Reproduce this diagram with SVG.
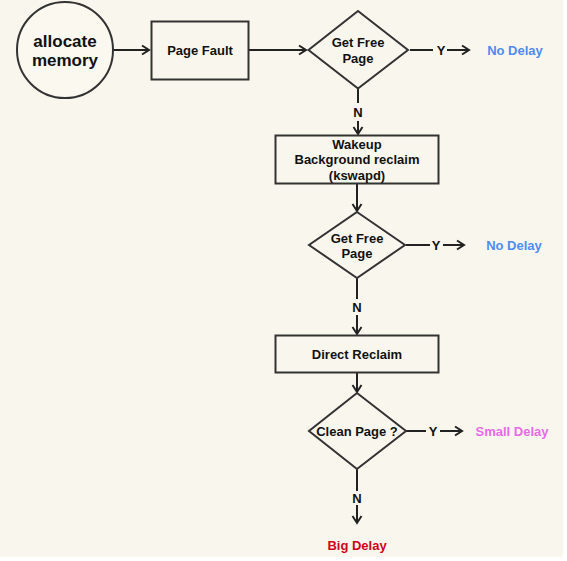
<svg xmlns="http://www.w3.org/2000/svg" width="567" height="561" viewBox="0 0 567 561">
  <style>
    .shape { fill: none; stroke: #333; stroke-width: 2; }
    .circ { fill: #faf8ef; stroke: #333; stroke-width: 2; }
    .edge { fill: none; stroke: #222; stroke-width: 2; }
    .lbl { font-family: "Liberation Sans", Arial, sans-serif; font-weight: bold; font-size: 13px; fill: #111; text-anchor: middle; }
    .big { font-size: 17px; }
    .blue { fill: #4f8cf0; }
    .pink { fill: #e86ae8; }
    .red { fill: #d0021b; }
  </style>
  <defs>
    <marker id="arr" markerUnits="userSpaceOnUse" markerWidth="12" markerHeight="12" viewBox="0 0 12 12" refX="10" refY="6" orient="auto">
      <path d="M3,1.5 L10,6 L3,10.5" fill="none" stroke="#222" stroke-width="2"/>
    </marker>
  </defs>
  <rect x="0" y="0" width="567" height="561" fill="#ffffff"/>
  <rect x="0" y="0" width="563" height="557" fill="#f9f7ed"/>

  <g id="connectors">
    <line class="edge" x1="113" y1="50" x2="149" y2="50" marker-end="url(#arr)"/>
    <line class="edge" x1="249" y1="50" x2="306" y2="50" marker-end="url(#arr)"/>
    <line class="edge" x1="410" y1="50" x2="433" y2="50"/>
    <text class="lbl" x="441" y="55">Y</text>
    <line class="edge" x1="447" y1="50" x2="469" y2="50" marker-end="url(#arr)"/>
    <line class="edge" x1="358" y1="88" x2="358" y2="103"/>
    <text class="lbl" x="358" y="117">N</text>
    <line class="edge" x1="358" y1="121" x2="358" y2="134" marker-end="url(#arr)"/>
    <line class="edge" x1="357" y1="184" x2="357" y2="211" marker-end="url(#arr)"/>
    <line class="edge" x1="406" y1="245" x2="430" y2="245"/>
    <text class="lbl" x="436" y="250">Y</text>
    <line class="edge" x1="443" y1="245" x2="464" y2="245" marker-end="url(#arr)"/>
    <line class="edge" x1="357" y1="278" x2="357" y2="299"/>
    <text class="lbl" x="357" y="312">N</text>
    <line class="edge" x1="357" y1="315" x2="357" y2="334" marker-end="url(#arr)"/>
    <line class="edge" x1="357" y1="373" x2="357" y2="392" marker-end="url(#arr)"/>
    <line class="edge" x1="406" y1="431" x2="426" y2="431"/>
    <text class="lbl" x="433" y="436">Y</text>
    <line class="edge" x1="440" y1="431" x2="462" y2="431" marker-end="url(#arr)"/>
    <line class="edge" x1="357" y1="469" x2="357" y2="491"/>
    <text class="lbl" x="357" y="503">N</text>
    <line class="edge" x1="357" y1="505" x2="357" y2="523" marker-end="url(#arr)"/>
  </g>

  <g id="allocate-memory">
    <circle class="circ" cx="65" cy="50" r="48"/>
    <text class="lbl big" x="65" y="47">allocate</text>
    <text class="lbl big" x="65" y="66">memory</text>
  </g>
  <g id="page-fault">
    <rect class="shape" x="151.5" y="21.5" width="97" height="58"/>
    <text class="lbl" x="200" y="55">Page Fault</text>
  </g>
  <g id="get-free-page-1">
    <polygon class="shape" points="358,11 408,50 358,88.5 308.5,50"/>
    <text class="lbl" x="358" y="47">Get Free</text>
    <text class="lbl" x="358" y="63">Page</text>
  </g>
  <g id="no-delay-1">
    <text class="lbl blue" x="515" y="55">No Delay</text>
  </g>
  <g id="wakeup">
    <rect class="shape" x="275.5" y="135.5" width="163" height="48"/>
    <text class="lbl" x="357" y="149">Wakeup</text>
    <text class="lbl" x="357" y="164">Background reclaim</text>
    <text class="lbl" x="357" y="180">(kswapd)</text>
  </g>
  <g id="get-free-page-2">
    <polygon class="shape" points="357,212 405,245 357,278 309,245"/>
    <text class="lbl" x="357" y="243">Get Free</text>
    <text class="lbl" x="357" y="258">Page</text>
  </g>
  <g id="no-delay-2">
    <text class="lbl blue" x="514" y="250">No Delay</text>
  </g>
  <g id="direct-reclaim">
    <rect class="shape" x="275.5" y="335.5" width="163" height="37"/>
    <text class="lbl" x="357" y="359">Direct Reclaim</text>
  </g>
  <g id="clean-page">
    <polygon class="shape" points="357,393 406,431 357,469 309,431"/>
    <text class="lbl" x="357" y="436">Clean Page ?</text>
  </g>
  <g id="small-delay">
    <text class="lbl pink" x="512" y="436">Small Delay</text>
  </g>
  <g id="big-delay">
    <text class="lbl red" x="357" y="550">Big Delay</text>
  </g>
</svg>
